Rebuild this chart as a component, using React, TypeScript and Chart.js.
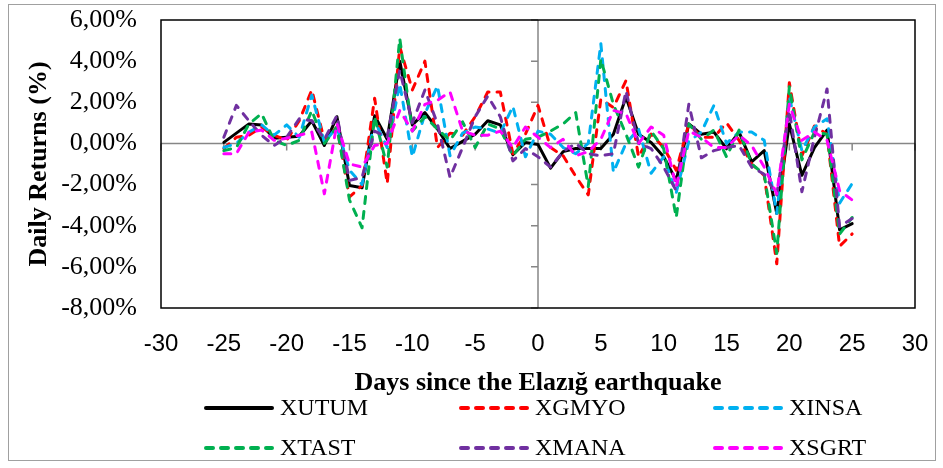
import React, { useEffect, useRef } from "react";
import { Chart, registerables } from "chart.js";

Chart.register(...registerables);

const days = [
  -25, -24, -23, -22, -21, -20, -19, -18, -17, -16, -15, -14, -13, -12, -11, -10, -9,
  -8, -7, -6, -5, -4, -3, -2, -1, 0, 1, 2, 3, 4, 5, 6, 7, 8, 9, 10, 11, 12, 13, 14, 15,
  16, 17, 18, 19, 20, 21, 22, 23, 24, 25,
];

const XUTUM = [
  0.05, 0.5, 0.95, 0.9, 0.25, 0.3, 0.35, 1.1, -0.1, 1.3, -2.05, -2.15, 1.35, 0.2, 4.0, 0.9, 1.5,
  0.7, -0.25, 0.1, 0.45, 1.1, 0.9, -0.55, 0.05, -0.05, -1.2, -0.4, -0.25, -0.25, -0.25, 0.45, 2.25, 0.45, 0.05, -0.65,
  -1.8, 0.95, 0.45, 0.55, -0.25, 0.55, -0.9, -0.35, -3.4, 0.95, -1.55, -0.2, 0.65, -4.2, -3.9,
];
const XGMYO = [
  -0.25, 0.3, 0.4, 0.8, 0.4, 0.15, 1.1, 2.6, 0.15, 0.8, -2.6, -2.05, 2.2, -1.95, 4.7, 2.6, 4.0,
  -0.2, 0.5, 0.4, 1.3, 2.5, 2.5, -0.5, 0.45, 1.85, -0.2, -0.6, -1.6, -2.5, 2.15, 1.75, 3.05, -0.65, 0.45, -0.2,
  -1.3, 0.95, 0.3, 0.3, 1.0, 0.15, -1.0, -1.55, -5.85, 2.95, -0.6, 0.85, 0.45, -5.0, -4.4,
];
const XINSA = [
  -0.2, 0.0, 0.55, 0.9, 0.4, 0.9, 0.3, 2.35, 0.05, 0.8, -1.3, -2.0, 1.1, -0.2, 2.9, -0.65, 1.45,
  2.8, -0.6, 0.5, 0.8, 0.7, 0.5, 1.8, -0.65, 0.6, 0.45, -0.2, -0.5, 0.0, 4.85, -1.4, 0.0, 0.7, -1.45, -0.65,
  -2.4, 0.1, 0.55, 1.85, 0.0, 0.55, 0.55, 0.15, -3.4, 2.25, -0.35, 0.8, 1.2, -2.9, -1.95,
];
const XTAST = [
  -0.35, -0.2, 0.95, 1.45, 0.15, -0.1, 0.15, 1.6, 0.0, 0.8, -2.75, -4.1, 1.3, -1.15, 5.1, 0.6, 1.3,
  0.7, 0.15, 1.05, -0.2, 0.95, 0.7, -0.6, 0.2, 0.3, 0.6, 0.95, 1.5, -2.1, 4.1, 1.9, 0.45, -1.15, 0.6, -0.25,
  -3.6, 0.95, 0.2, 0.65, -0.65, 0.65, -1.0, -1.5, -5.35, 2.75, -0.8, 0.55, 0.45, -4.4, -3.6,
];
const XMANA = [
  0.3, 1.85, 1.1, 0.4, -0.1, 0.3, 1.2, 1.1, 0.2, 1.35, -1.8, -1.65, 0.6, 0.3, 3.55, 1.0, 2.6,
  0.95, -1.65, -0.2, 1.3, 2.3, 1.3, -0.85, -0.25, -0.65, -1.15, -0.4, 0.0, -0.5, -0.6, -0.5, 2.55, 0.0, -0.25, -1.15,
  -2.3, 1.9, -0.7, -0.35, -0.2, -0.1, -1.15, -1.5, -2.5, 1.6, -2.35, 0.3, 2.65, -4.05, -3.65,
];
const XSGRT = [
  -0.5, -0.5, 0.55, 0.65, 0.15, 0.25, 0.4, 0.55, -2.45, 0.95, -1.0, -1.15, -0.1, 0.0, 1.6, 0.6, 1.9,
  2.1, 2.5, 0.6, 0.4, 0.4, 0.6, -0.2, 0.8, 0.3, -0.2, 0.2, -0.6, -0.4, 0.2, 1.6, 1.45, 0.0, 0.8, 0.4,
  -2.1, 0.6, 0.3, -0.2, -0.2, 0.4, -0.1, -1.15, -2.45, 1.9, 0.15, 0.55, 0.15, -2.3, -2.75,
];

const seriesNames = ["XUTUM", "XGMYO", "XINSA", "XTAST", "XMANA", "XSGRT"];
const seriesValues = [XUTUM, XGMYO, XINSA, XTAST, XMANA, XSGRT];
const seriesColors = ["#000000", "#FF0000", "#00B0F0", "#00B050", "#7030A0", "#FF00FF"];

const xTitle = "Days since the Elazığ earthquake";
const yTitle = "Daily Returns (%)";

const DASH = [7, 8];

const framePlugin = {
  id: "framePlugin",
  beforeDraw(chart: any) {
    const ctx = chart.ctx;
    ctx.save();
    ctx.fillStyle = "#ffffff";
    ctx.fillRect(0, 0, chart.width, chart.height);
    ctx.strokeStyle = "#A0A0A0";
    ctx.lineWidth = 1;
    ctx.strokeRect(8.5, 4.5, 927, 456);
    ctx.restore();
  },
  beforeDatasetsDraw(chart: any) {
    const ctx = chart.ctx;
    const { left, right, top, bottom } = chart.chartArea;
    const xs = chart.scales.x;
    const ys = chart.scales.y;
    const x0 = xs.getPixelForValue(0);
    const y0 = ys.getPixelForValue(0);
    ctx.save();
    ctx.strokeStyle = "#868686";
    ctx.lineWidth = 1.5;
    ctx.beginPath();
    ctx.moveTo(left, y0);
    ctx.lineTo(right, y0);
    ctx.moveTo(x0, top);
    ctx.lineTo(x0, bottom);
    xs.ticks.forEach((t: any) => {
      const px = xs.getPixelForValue(t.value);
      ctx.moveTo(px, y0);
      ctx.lineTo(px, y0 + 7);
    });
    ys.ticks.forEach((t: any) => {
      const py = ys.getPixelForValue(t.value);
      ctx.moveTo(x0, py);
      ctx.lineTo(x0 - 7, py);
    });
    ctx.stroke();
    ctx.strokeStyle = "#000000";
    ctx.lineWidth = 1.5;
    ctx.strokeRect(left, top, right - left, bottom - top);
    ctx.restore();
  },
  afterDraw(chart: any) {
    const ctx = chart.ctx;
    ctx.save();
    const colX = [204, 459, 713];
    const rowY = [408, 448];
    chart.data.datasets.forEach((ds: any, i: number) => {
      const cx = colX[i % 3];
      const cy = rowY[Math.floor(i / 3)];
      ctx.strokeStyle = ds.borderColor;
      ctx.lineWidth = 4;
      ctx.lineCap = "round";
      ctx.setLineDash(ds.borderDash || []);
      ctx.beginPath();
      ctx.moveTo(cx + 2, cy);
      ctx.lineTo(cx + 68, cy);
      ctx.stroke();
      ctx.setLineDash([]);
      ctx.fillStyle = "#000000";
      ctx.font = "24px 'Liberation Serif', 'Times New Roman', serif";
      ctx.textAlign = "left";
      ctx.textBaseline = "middle";
      ctx.fillText(ds.label, cx + 76, cy + 1);
    });
    ctx.restore();
  },
};

export default function App() {
  const ref = useRef<HTMLCanvasElement | null>(null);
  useEffect(() => {
    if (!ref.current) return;
    const datasets = seriesNames.map((name, i) => ({
      label: name,
      data: days.map((d, j) => ({ x: d, y: seriesValues[i][j] })),
      borderColor: seriesColors[i],
      backgroundColor: seriesColors[i],
      borderWidth: 3,
      borderDash: i === 0 ? [] : DASH,
      borderCapStyle: "round",
      borderJoinStyle: "round",
      pointRadius: 0,
      tension: 0,
      fill: false,
      order: 6 - i,
    }));
    const chart = new Chart(ref.current, {
      type: "line",
      data: { datasets } as any,
      options: {
        animation: false,
        responsive: false,
        devicePixelRatio: 1,
        layout: { padding: { left: 0, right: 28, top: 20, bottom: 65 } },
        plugins: {
          legend: { display: false },
          tooltip: { enabled: false },
        },
        scales: {
          x: {
            type: "linear",
            min: -30,
            max: 30,
            ticks: {
              stepSize: 5,
              color: "#000000",
              padding: 22,
              font: { family: "'Liberation Sans', Arial, sans-serif", size: 24 },
            },
            grid: { display: false, drawTicks: false },
            border: { display: false },
            title: {
              display: true,
              text: xTitle,
              color: "#000000",
              font: { family: "'Liberation Serif', 'Times New Roman', serif", size: 26, weight: "bold" },
              padding: { top: 0, bottom: 4 },
            },
            afterFit: (s: any) => {
              s.height = 95;
              s.paddingLeft = 0;
              s.paddingRight = 0;
            },
          },
          y: {
            type: "linear",
            min: -8,
            max: 6,
            ticks: {
              stepSize: 2,
              color: "#000000",
              padding: 24,
              font: { family: "'Liberation Serif', 'Times New Roman', serif", size: 26 },
              callback: (v: any) => Number(v).toFixed(2).replace(".", ",") + "%",
            },
            grid: { display: false, drawTicks: false },
            border: { display: false },
            title: {
              display: true,
              text: yTitle,
              color: "#000000",
              font: { family: "'Liberation Serif', 'Times New Roman', serif", size: 26, weight: "bold" },
              padding: { top: 24, bottom: 0 },
            },
            afterFit: (s: any) => {
              s.width = 161;
              s.paddingTop = 0;
              s.paddingBottom = 0;
            },
          },
        },
      } as any,
      plugins: [framePlugin],
    });
    return () => chart.destroy();
  }, []);
  return (
    <div style={{ position: "fixed", left: 0, top: 0, width: 943, height: 468, background: "#fff" }}>
      <canvas ref={ref} width={943} height={468} style={{ display: "block", width: 943, height: 468 }} />
    </div>
  );
}
